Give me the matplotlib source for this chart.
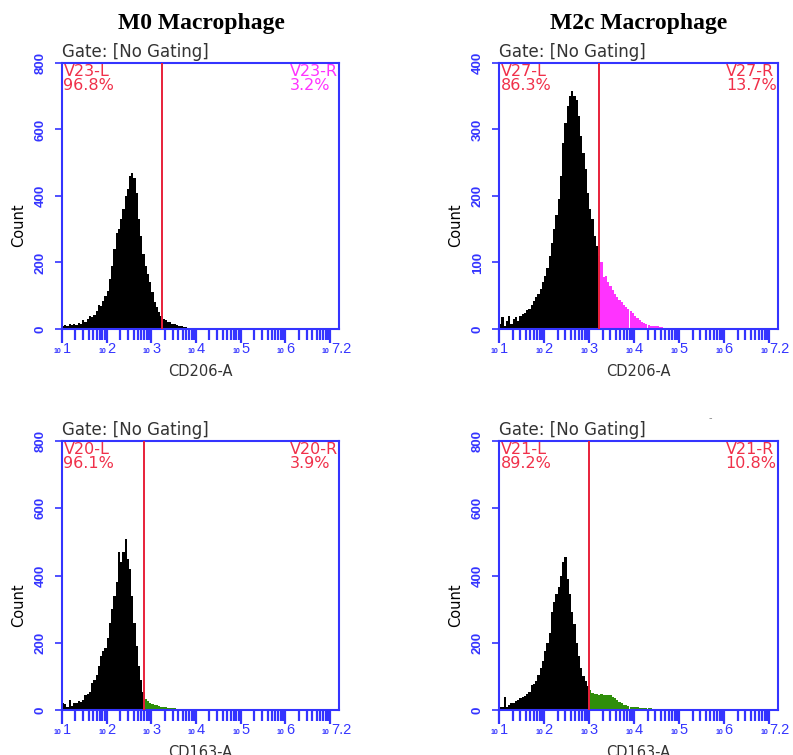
import numpy as np
import matplotlib.pyplot as plt

# histogram counts, bins of 0.05 decade starting at 10^1
BIN_START = 1.0
BIN_W = 0.05

m0_cd206 = [8, 12, 10, 14, 12, 15, 13, 18, 16, 28, 22, 30, 38, 36, 42, 55, 72, 70, 85, 100,
            115, 150, 190, 240, 290, 300, 330, 360, 400, 420, 460, 470, 455, 410, 330, 280,
            225, 190, 165, 140, 110, 80, 65, 50, 38, 30, 28, 22, 20, 16, 14, 12, 10, 9, 7,
            5, 4, 2, 1, 0]

m2c_cd206 = [8, 18, 5, 12, 20, 8, 15, 18, 12, 20, 22, 24, 28, 30, 36, 42, 48, 52, 60, 70,
             80, 92, 110, 130, 150, 172, 195, 230, 280, 310, 335, 350, 358, 350, 345, 320,
             290, 265, 240, 205, 180, 165, 140, 125, 110, 100, 78, 80, 70, 64, 58, 52, 48,
             44, 40, 36, 33, 30, 27, 24, 20, 17, 14, 11, 9, 7, 6, 5, 5, 4, 4, 3, 3, 2, 1, 0]

m0_cd163 = [20, 18, 8, 30, 12, 22, 20, 26, 24, 30, 45, 48, 55, 80, 90, 105, 130, 160, 175, 185,
            215, 260, 300, 340, 380, 470, 440, 470, 510, 450, 420, 340, 260, 190, 130, 90, 55,
            32, 26, 22, 18, 16, 14, 12, 10, 9, 8, 7, 6, 6, 5, 4, 3, 3, 2, 1, 0]

m2c_cd163 = [10, 8, 38, 10, 16, 20, 22, 28, 30, 35, 38, 42, 48, 55, 75, 78, 85, 105, 125, 145,
             175, 200, 230, 290, 320, 345, 365, 400, 440, 455, 390, 345, 290, 255, 200, 160,
             125, 100, 85, 72, 58, 52, 48, 47, 46, 48, 46, 45, 46, 44, 40, 36, 30, 25, 20, 16,
             14, 12, 10, 9, 8, 8, 7, 6, 6, 5, 5, 5, 4, 4, 4, 3, 3, 2, 2, 1, 0]

titles = ['M0 Macrophage', 'M2c Macrophage']
gates = [3.24, 3.22, 2.83, 3.0]
gate_names = ['V23', 'V27', 'V20', 'V21']
left_pct = ['96.8%', '86.3%', '96.1%', '89.2%']
right_pct = ['3.2%', '13.7%', '3.9%', '10.8%']
markers = ['CD206-A', 'CD206-A', 'CD163-A', 'CD163-A']
ymaxes = [800, 400, 800, 800]
exps = ['1', '2', '3', '4', '5', '6', '7.2']

blue = '#3434ff'
red = '#f0304a'
magenta = '#ff33ff'
green = '#2f8f0a'
grey = '#333333'

right_colors = [magenta, red, red, red]
high_colors = ['black', magenta, green, green]
all_counts = [m0_cd206, m2c_cd206, m0_cd163, m2c_cd163]

fig = plt.figure(figsize=(7.93, 7.55), dpi=100)
W, H = 793, 755
boxes = [(62, 63, 339, 329), (499, 63, 778, 329), (62, 441, 339, 710), (499, 441, 778, 710)]

for i in range(4):
    x0, y0, x1, y1 = boxes[i]
    ax = fig.add_axes([x0 / W, 1 - y1 / H, (x1 - x0) / W, (y1 - y0) / H])
    counts = np.array(all_counts[i])
    left_edges = BIN_START + BIN_W * np.arange(len(counts))
    centers = left_edges + BIN_W / 2
    cols = [high_colors[i] if c > gates[i] else 'black' for c in centers]
    ax.bar(left_edges, counts, width=BIN_W, align='edge', color=cols, linewidth=0)
    ax.axvline(gates[i], color='#e8203a', lw=1.4, zorder=5)

    ax.set_xlim(1, 7.2)
    ax.set_ylim(0, ymaxes[i])
    step = ymaxes[i] // 4
    ax.set_yticks(np.arange(0, ymaxes[i] + 1, step))
    ax.tick_params(axis='y', colors=blue, labelrotation=90, length=5, width=1.2,
                   labelsize=9.5, pad=6)
    for lab in ax.get_yticklabels():
        lab.set_fontweight('bold')
        lab.set_family('Liberation Sans')
        lab.set_va('center')

    major = list(range(1, 8))
    minor = [np.log10(m * 10.0 ** k) for k in range(1, 7) for m in range(2, 10)]
    ax.set_xticks(major)
    ax.set_xticks(minor, minor=True)
    ax.set_xticklabels([])
    ax.tick_params(axis='x', which='both', colors=blue, width=1.6)
    ax.tick_params(axis='x', which='major', length=10)
    ax.tick_params(axis='x', which='minor', length=8)
    for s in ax.spines.values():
        s.set_color(blue)
        s.set_linewidth(1.5)

    for k, e in enumerate(exps):
        ax.annotate('10', xy=(1 + k, 0), xycoords=('data', 'axes fraction'),
                    xytext=(-0.5, -17.5), textcoords='offset points', ha='right', va='baseline',
                    color=blue, fontsize=5, fontweight='bold', family='Liberation Sans')
        ax.annotate(e, xy=(1 + k, 0), xycoords=('data', 'axes fraction'),
                    xytext=(0.5, -17), textcoords='offset points', ha='left', va='baseline',
                    color=blue, fontsize=10.5, family='Liberation Sans')

    ax.set_xlabel(markers[i], fontsize=10.5, color=grey, labelpad=12)
    ax.set_ylabel('Count', fontsize=10.5, color='black')
    ax.yaxis.set_label_coords(-0.13, 0.39)

    ax.text(0.0, 1.008, 'Gate: [No Gating]', transform=ax.transAxes, ha='left', va='bottom',
            fontsize=12, color=grey)
    ax.text(0.005, 0.995, gate_names[i] + '-L\n' + left_pct[i], transform=ax.transAxes,
            ha='left', va='top', fontsize=11.5, color=red, linespacing=0.85)
    ax.text(0.995, 0.995, gate_names[i] + '-R\n' + right_pct[i], transform=ax.transAxes,
            ha='right', va='top', fontsize=11.5, color=right_colors[i],
            linespacing=0.85, multialignment='left')

fig.text(201 / W, 1 - 23 / H, titles[0], ha='center', va='center', fontsize=17,
         fontweight='bold', family='Liberation Serif')
fig.text(639 / W, 1 - 23 / H, titles[1], ha='center', va='center', fontsize=17,
         fontweight='bold', family='Liberation Serif')
fig.text(710 / W, 1 - 418 / H, '-', ha='center', va='center', fontsize=7, color='#888888')

fig.savefig('out.png', dpi=100)
